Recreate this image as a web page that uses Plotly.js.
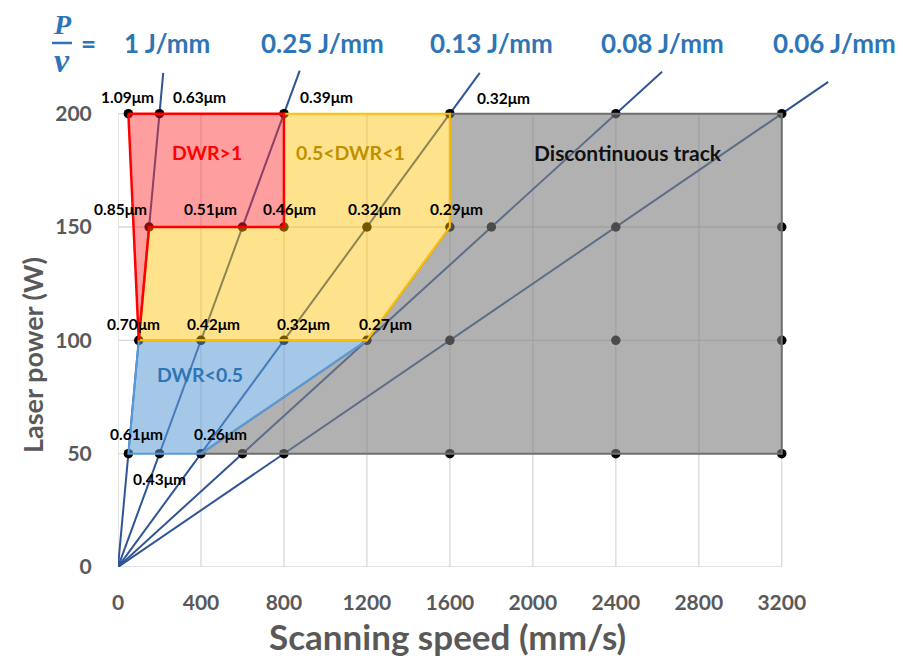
<!DOCTYPE html>
<html><head><meta charset="utf-8">
<script src="https://cdn.plot.ly/plotly-3.0.1.min.js"></script>
<style>html,body{margin:0;padding:0;background:#fff;}#chart{width:903px;height:666px;}</style>
</head><body><div id="chart"></div>
<script>
// ---- data ----
const speedTicks = [0, 400, 800, 1200, 1600, 2000, 2400, 2800, 3200];
const powerTicks = [0, 50, 100, 150, 200];

// energy density lines P/v (J/mm) and where each drawn line ends (W)
const energyValues = [1, 0.25, 0.125, 0.0833, 0.0625];
const energyLabels = ['1 J/mm', '0.25 J/mm', '0.13 J/mm', '0.08 J/mm', '0.06 J/mm'];
const lineEndPower = [218, 219, 218, 218.5, 214];
const energyLabelSpeed = [236, 984, 1803, 2623, 3452];

// experimental points
const pointSpeed = [50, 200, 800, 1600, 2400, 3200,
                    150, 600, 800, 1200, 1600, 1800, 2400, 3200,
                    100, 400, 800, 1200, 1600, 2400, 3200,
                    50, 200, 400, 600, 800, 1600, 2400, 3200];
const pointPower = [200, 200, 200, 200, 200, 200,
                    150, 150, 150, 150, 150, 150, 150, 150,
                    100, 100, 100, 100, 100, 100, 100,
                    50, 50, 50, 50, 50, 50, 50, 50];

// regions
const redSpeed = [50, 800, 800, 150, 100, 50];
const redPower = [200, 200, 150, 150, 100, 200];
const yellowSpeed = [800, 1600, 1600, 1200, 100, 150, 800, 800];
const yellowPower = [200, 200, 150, 100, 100, 150, 150, 200];
const blueSpeed = [100, 1200, 400, 50, 100];
const bluePower = [100, 100, 50, 50, 100];
const graySpeed = [1600, 3200, 3200, 400, 1200, 1600, 1600];
const grayPower = [200, 200, 50, 50, 100, 150, 200];

// depth labels
const depthText = ['1.09μm', '0.63μm', '0.39μm', '0.32μm',
                   '0.85μm', '0.51μm', '0.46μm', '0.32μm', '0.29μm',
                   '0.70μm', '0.42μm', '0.32μm', '0.27μm',
                   '0.61μm', '0.26μm', '0.43μm'];
const depthSpeed = [50, 200, 800, 1600, 150, 600, 800, 1200, 1600, 100, 400, 800, 1200, 50, 400, 200];
const depthPower = [200, 200, 200, 200, 150, 150, 150, 150, 150, 100, 100, 100, 100, 50, 50, 50];

const regionText = ['DWR>1', '0.5<DWR<1', 'DWR<0.5', 'Discontinuous track'];
const regionSpeed = [430, 1120, 395, 2460];
const regionPower = [183, 183, 85, 183];

const xTitle = 'Scanning speed (mm/s)';
const yTitle = 'Laser power (W)';

// ---- style ----
const FONT = 'Lato, "Open Sans", sans-serif';
const depthOffX = [-1, 40, 43, 54, -29, -32, 6, 8, 7, -5, 13, 20, 19, 8, 20, 0];
const depthOffY = [17, 17, 17, 16, 18, 18, 18, 18, 18, 16, 16, 16, 16, 20, 20, -25];
const regionColors = ['#FF0000', '#BF9000', '#2E75B6', '#111111'];
const regionSizes = [19.5, 19.5, 19.5, 21];
const blue = '#2E75B6';
const gray = '#595959';

const traces = [];
// energy lines
energyValues.forEach((e, i) => {
  traces.push({
    x: [0, lineEndPower[i] / e], y: [0, lineEndPower[i]],
    mode: 'lines', type: 'scatter', line: {color: '#2F5597', width: 2},
    hoverinfo: 'skip', showlegend: false, cliponaxis: false
  });
});
// points
traces.push({
  x: pointSpeed, y: pointPower, mode: 'markers', type: 'scatter',
  marker: {color: '#000', size: 9.5}, showlegend: false, cliponaxis: false
});
// regions
traces.push({x: graySpeed, y: grayPower, type: 'scatter', mode: 'lines', fill: 'toself',
  fillcolor: 'rgba(125,125,125,0.6)', line: {color: '#707070', width: 2}, showlegend: false, hoverinfo: 'skip'});
traces.push({x: blueSpeed, y: bluePower, type: 'scatter', mode: 'lines', fill: 'toself',
  fillcolor: 'rgba(91,155,213,0.55)', line: {color: '#5B9BD5', width: 2}, showlegend: false, hoverinfo: 'skip'});
traces.push({x: yellowSpeed, y: yellowPower, type: 'scatter', mode: 'lines', fill: 'toself',
  fillcolor: 'rgba(255,192,0,0.45)', line: {color: '#FFC000', width: 2}, showlegend: false, hoverinfo: 'skip'});
traces.push({x: redSpeed, y: redPower, type: 'scatter', mode: 'lines', fill: 'toself',
  fillcolor: 'rgba(255,40,40,0.45)', line: {color: '#FF0000', width: 2.5}, showlegend: false, hoverinfo: 'skip'});

const xMax = speedTicks[speedTicks.length - 1];
const yMax = powerTicks[powerTicks.length - 1];
const shapes = [];
speedTicks.forEach(v => shapes.push({type: 'line', layer: 'below', xref: 'x', yref: 'y',
  x0: v, x1: v, y0: 0, y1: yMax, line: {color: '#D9D9D9', width: 1.3}}));
powerTicks.forEach(p => shapes.push({type: 'line', layer: 'below', xref: 'x', yref: 'y',
  x0: 0, x1: xMax, y0: p, y1: p, line: {color: '#D9D9D9', width: 1.3}}));
// fraction bar for P/v
shapes.push({type: 'line', xref: 'paper', yref: 'paper', x0: -0.0909, x1: -0.0634, y0: 1.0275, y1: 1.0275,
  line: {color: blue, width: 2.5}});

const annotations = [];
depthText.forEach((t, i) => annotations.push({
  x: depthSpeed[i], y: depthPower[i], xref: 'x', yref: 'y', text: '<b>' + t + '</b>', showarrow: false,
  xanchor: 'center', yanchor: 'middle',
  xshift: depthOffX[i], yshift: depthOffY[i], font: {family: FONT, size: 15.5, color: '#000'}
}));
regionText.forEach((t, i) => annotations.push({
  x: regionSpeed[i], y: regionPower[i], xref: 'x', yref: 'y', text: '<b>' + t + '</b>', showarrow: false,
  xanchor: 'center', yanchor: 'middle',
  font: {family: FONT, size: regionSizes[i], color: regionColors[i]}
}));
energyLabels.forEach((t, i) => annotations.push({
  x: energyLabelSpeed[i], y: 1.0275, xref: 'x', yref: 'paper', text: '<b>' + t + '</b>', showarrow: false,
  xanchor: 'center', yanchor: 'middle',
  font: {family: FONT, size: 26, color: blue}
}));
annotations.push({x: -0.0771, y: 1.064, xref: 'paper', yref: 'paper', text: '<b><i>P</i></b>', showarrow: false,
  xanchor: 'center', yanchor: 'middle',
  font: {family: '"Liberation Serif", serif', size: 28, color: blue}});
annotations.push({x: -0.0771, y: 0.993, xref: 'paper', yref: 'paper', text: '<b><i>v</i></b>', showarrow: false,
  xanchor: 'center', yanchor: 'middle',
  font: {family: '"Liberation Serif", serif', size: 34, color: blue}});
annotations.push({x: -0.040, y: 1.0275, xref: 'paper', yref: 'paper', text: '<b>=</b>', showarrow: false,
  xanchor: 'center', yanchor: 'middle',
  font: {family: FONT, size: 26, color: blue}});
// axis titles
annotations.push({x: (447.5 - 118) / 726, y: (567 - 636) / 510, xref: 'paper', yref: 'paper',
  text: '<b>' + xTitle + '</b>', showarrow: false, xanchor: 'center', yanchor: 'middle',
  font: {family: FONT, size: 35, color: gray}});
annotations.push({x: (33 - 118) / 726, y: (567 - 355) / 510, xref: 'paper', yref: 'paper',
  text: '<b>' + yTitle + '</b>', showarrow: false, xanchor: 'center', yanchor: 'middle', textangle: -90,
  font: {family: FONT, size: 27, color: gray}});

const layout = {
  width: 903, height: 666,
  margin: {l: 118, r: 59, t: 57, b: 99},
  paper_bgcolor: '#fff', plot_bgcolor: '#fff',
  showlegend: false,
  xaxis: {
    range: [0, 3500], tickvals: speedTicks, ticktext: speedTicks.map(String),
    showgrid: false, zeroline: false, showline: false,
    ticks: 'outside', ticklen: 17, tickcolor: 'rgba(0,0,0,0)',
    tickfont: {family: FONT, size: 21, color: gray, weight: 'bold'}
  },
  yaxis: {
    range: [0, 225], tickvals: powerTicks, ticktext: powerTicks.map(String),
    showgrid: false, zeroline: false, showline: false,
    ticks: 'outside', ticklen: 21, tickcolor: 'rgba(0,0,0,0)',
    tickfont: {family: FONT, size: 21, color: gray, weight: 'bold'}
  },
  shapes: shapes,
  annotations: annotations
};

Plotly.newPlot('chart', traces, layout, {displayModeBar: false, staticPlot: true});
</script>
</body></html>
